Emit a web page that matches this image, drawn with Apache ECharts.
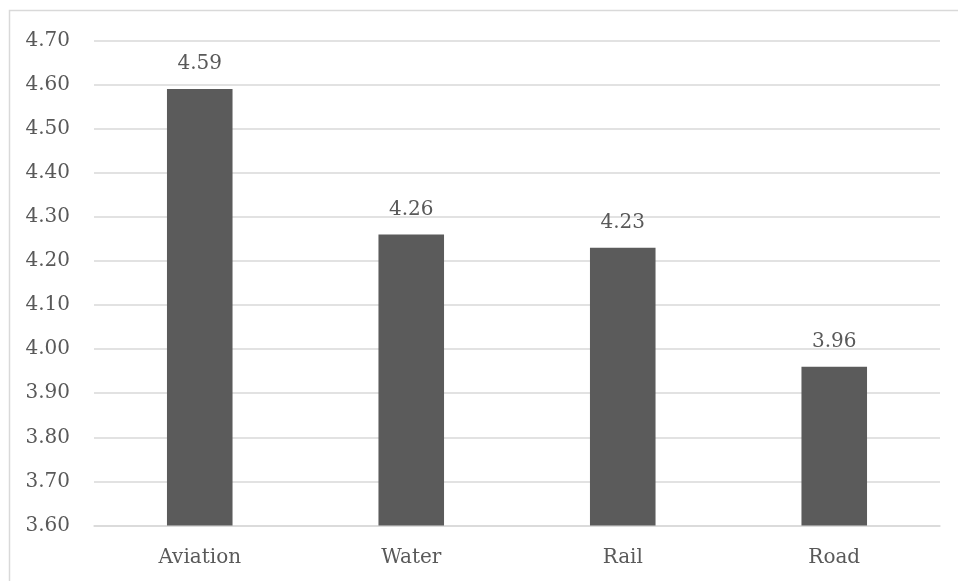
<!DOCTYPE html>
<html>
<head>
<meta charset="utf-8">
<script src="https://cdn.jsdelivr.net/npm/echarts@6/dist/echarts.min.js"></script>
<style>
  html, body { margin: 0; padding: 0; background: #fff; }
  #chart { width: 958px; height: 581px; }
</style>
</head>
<body>
<div id="chart"></div>
<script>
// Mean scores by transport mode
const categories = ['Aviation', 'Water', 'Rail', 'Road'];
const values = [4.59, 4.26, 4.23, 3.96];

// Value axis range and step
const yMin = 3.6;
const yMax = 4.7;
const yStep = 0.1;

const textColor = '#595959';
const fontFamily = '"DejaVu Serif", serif';
const fontSize = 20;

const chart = echarts.init(document.getElementById('chart'));
chart.setOption({
  animation: false,
  backgroundColor: '#ffffff',
  graphic: [{
    type: 'rect',
    shape: { x: 9.5, y: 10.5, width: 1200, height: 1200 },
    style: { fill: 'none', stroke: '#d9d9d9', lineWidth: 1.5 },
    silent: true
  }],
  grid: { left: 94, right: 18, top: 40.5, bottom: 55.5, containLabel: false },
  xAxis: {
    type: 'category',
    data: categories,
    axisLine: { show: true, lineStyle: { color: '#d9d9d9', width: 1.5 } },
    axisTick: { show: false },
    axisLabel: { color: textColor, fontFamily: fontFamily, fontSize: fontSize, margin: 22 }
  },
  yAxis: {
    type: 'value',
    min: yMin,
    max: yMax,
    interval: yStep,
    axisLine: { show: false },
    axisTick: { show: false },
    splitLine: { lineStyle: { color: '#d9d9d9', width: 1.5 } },
    axisLabel: {
      color: textColor, fontFamily: fontFamily, fontSize: fontSize, margin: 24,
      formatter: v => v.toFixed(2)
    }
  },
  series: [{
    type: 'bar',
    data: values,
    barWidth: '31%',
    itemStyle: { color: '#5b5b5b' },
    label: {
      show: true,
      position: 'top',
      distance: 15,
      color: textColor,
      fontFamily: fontFamily,
      fontSize: fontSize,
      formatter: p => p.value.toFixed(2)
    }
  }]
});
</script>
</body>
</html>
